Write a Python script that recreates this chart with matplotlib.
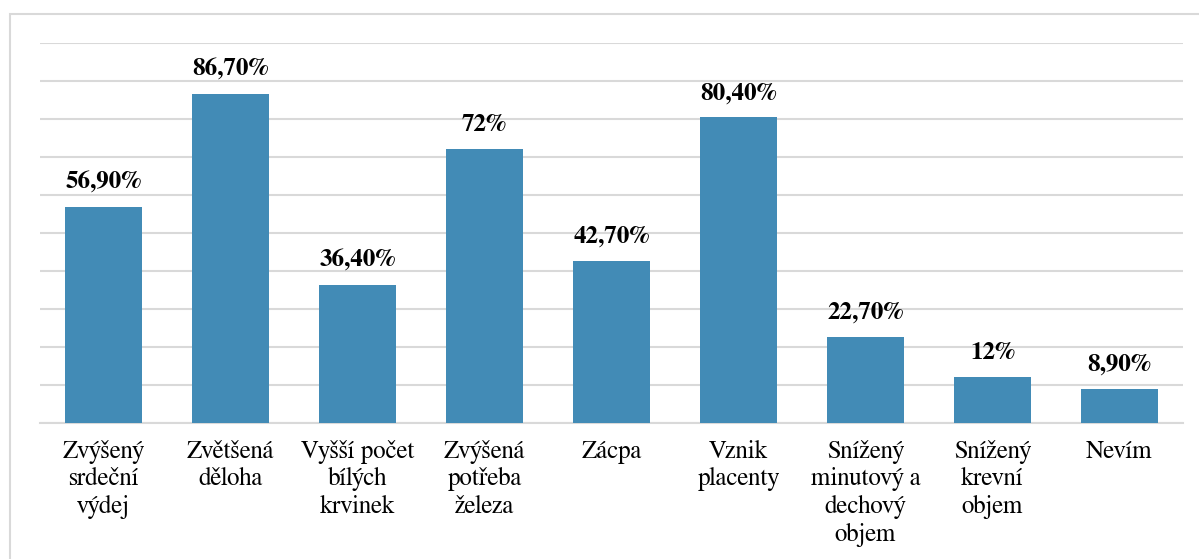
import matplotlib.pyplot as plt
from matplotlib import font_manager
from matplotlib.patches import Rectangle

categories = ["Zvýšený\nsrdeční\nvýdej", "Zvětšená\nděloha", "Vyšší počet\nbílých\nkrvinek",
              "Zvýšená\npotřeba\nželeza", "Zácpa", "Vznik\nplacenty",
              "Snížený\nminutový a\ndechový\nobjem", "Snížený\nkrevní\nobjem", "Nevím"]
values = [56.9, 86.7, 36.4, 72, 42.7, 80.4, 22.7, 12, 8.9]
labels = ["56,90%", "86,70%", "36,40%", "72%", "42,70%", "80,40%", "22,70%", "12%", "8,90%"]

# Times-like serif font (FreeSerif), fall back to DejaVu Serif
installed = set(f.name for f in font_manager.fontManager.ttflist)
serif = 'FreeSerif' if 'FreeSerif' in installed else 'DejaVu Serif'
plt.rcParams['font.family'] = [serif, 'DejaVu Serif']

fig = plt.figure(figsize=(11.99, 5.59), dpi=100)
# outer chart frame
fig.patches.append(Rectangle((10 / 1199, -0.1), 1.2, (559 - 14) / 559 + 0.1,
                             transform=fig.transFigure, fill=False,
                             edgecolor='#d9d9d9', linewidth=1.5))

ax = fig.add_axes([40 / 1199, 1 - 423 / 559, 1143 / 1199, 380 / 559])
x = range(len(values))
ax.bar(x, values, width=0.6, color='#428bb6', zorder=3)
for i, v in enumerate(values):
    ax.text(i, v + 3.5, labels[i], ha='center', va='bottom',
            fontsize=18, fontweight='bold')

ax.set_xlim(-0.5, len(values) - 0.5)
ax.set_ylim(0, 100)
ax.set_yticks(range(0, 101, 10))
ax.yaxis.grid(True, color='#d9d9d9', linewidth=1.5, zorder=0)
ax.set_yticklabels([])
ax.tick_params(axis='y', length=0)
ax.set_xticks(list(x))
ax.set_xticklabels(categories, fontsize=18, linespacing=1.2)
ax.tick_params(axis='x', length=0, pad=12)
for s in ['top', 'right', 'left']:
    ax.spines[s].set_visible(False)
ax.spines['bottom'].set_color('#d9d9d9')
ax.spines['bottom'].set_linewidth(1.5)

fig.savefig('out.png', dpi=100)
